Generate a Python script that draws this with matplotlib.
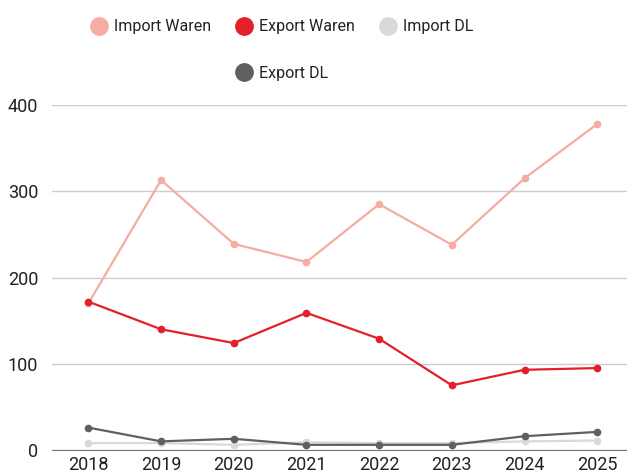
import matplotlib
matplotlib.use("Agg")
import matplotlib.pyplot as plt
from matplotlib.lines import Line2D

years = ["2018", "2019", "2020", "2021", "2022", "2023", "2024", "2025"]
import_waren = [170, 313, 239, 218, 285, 238, 315, 378]
export_waren = [172, 140, 124, 159, 129, 75, 93, 95]
import_dl = [8, 8, 6, 9, 8, 8, 10, 11]
export_dl = [26, 10, 13, 6, 6, 6, 16, 21]
yticks = [0, 100, 200, 300, 400]

colors = {"Import Waren": "#f5aca2", "Export Waren": "#e3202a",
          "Import DL": "#d9d9d9", "Export DL": "#606063"}

plt.rcParams['font.family'] = ['Roboto', 'DejaVu Sans']
plt.rcParams['font.stretch'] = 'condensed'

fig = plt.figure(figsize=(6.27, 4.76), dpi=100)
ax = fig.add_axes([0.083, 0.0546, 0.917, 0.7248])

x = list(range(len(years)))
series = [("Import DL", import_dl), ("Import Waren", import_waren),
          ("Export Waren", export_waren), ("Export DL", export_dl)]
for name, vals in series:
    ax.plot(x, vals, color=colors[name], lw=1.6, marker="o", ms=4.5, zorder=3)

ax.set_ylim(0, 400)
ax.set_xlim(-0.5, 7.41)
ax.set_yticks(yticks)
ax.set_xticks(x)
ax.set_xticklabels(years)
ax.grid(axis="y", color="#cccccc", lw=1)
ax.set_axisbelow(True)
for s in ["top", "right", "left"]:
    ax.spines[s].set_visible(False)
ax.spines["bottom"].set_color("#777777")
ax.tick_params(length=0, labelsize=13, colors="#222222", pad=4)
ax.tick_params(axis="y", pad=10)

def h(name):
    return Line2D([], [], color=colors[name], marker="o", ls="", ms=12.5)

blank = Line2D([], [], ls="", alpha=0)
handles = [h("Import Waren"), blank, h("Export Waren"), h("Export DL"), h("Import DL"), blank]
labels = ["Import Waren", "", "Export Waren", "Export DL", "Import DL", ""]
fig.legend(handles, labels, ncol=3, loc="upper center", bbox_to_anchor=(0.449, 0.99),
           frameon=False, fontsize=11.5, handletextpad=0.35, columnspacing=1.45,
           labelspacing=2.0, labelcolor="#222222", handlelength=1.2)

fig.savefig("out.png", dpi=100)
